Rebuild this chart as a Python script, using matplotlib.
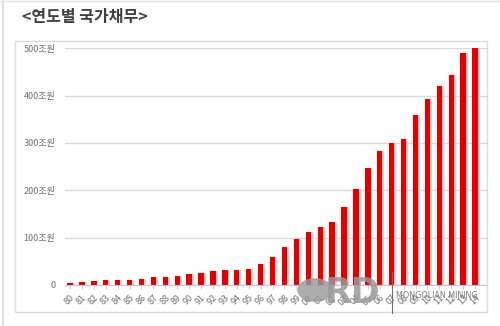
import matplotlib.pyplot as plt
from matplotlib.patches import Rectangle, Circle
from matplotlib.lines import Line2D
import numpy as np

plt.rcParams['font.family'] = ['Noto Sans CJK KR', 'DejaVu Sans']

# 연도별 국가채무 (조원)
years = ['80', '81', '82', '83', '84', '85', '86', '87', '88', '89',
         '90', '91', '92', '93', '94', '95', '96', '97', '98', '99',
         '00', '01', '02', '03', '04', '05', '06', '07', '08', '09',
         '10', '11', '12', '13', '14']
debt = [4, 5.5, 9, 11, 11, 11, 13, 16, 16, 20,
        23, 26, 30, 31, 32.5, 33, 45, 60, 80, 98,
        111, 122, 134, 165, 203, 248, 283, 299, 309, 360,
        392, 421, 443, 490, 500]
yticks = [0, 100, 200, 300, 400, 500]
ylabels = ['0', '100조원', '200조원', '300조원', '400조원', '500조원']

fig = plt.figure(figsize=(5, 3.26), dpi=100)
fig.patch.set_facecolor('white')

# 바깥 테두리 / 차트 박스
fig.add_artist(Line2D([0.005, 0.005], [0, 1], color='#d8d8d8', lw=1.2))
fig.add_artist(Line2D([0, 1], [0.997, 0.997], color='#e4e4e4', lw=1))
fig.add_artist(Rectangle((15 / 500, 1 - 312.3 / 326), (487.3 - 15) / 500,
                         (312.3 - 40.7) / 326, fill=False, ec='#dcdcdc', lw=1))

fig.text(22 / 500, 1 - 17 / 326, '<연도별 국가채무>', fontsize=11.5,
         fontweight='bold', color='#404040', va='center', ha='left')

ax = fig.add_axes([65 / 500, 41 / 326, 422 / 500, (285 - 48.3) / 326])
x = np.arange(len(years))
ax.bar(x + 0.16, debt, width=0.45, color='#f6c4c4', zorder=2)
ax.bar(x, debt, width=0.45, color='#e50000', zorder=3)

ax.set_xlim(-0.42, 35.0)
ax.set_ylim(0, 500)
ax.set_yticks(yticks)
ax.set_yticklabels(ylabels)
ax.set_xticks(x)
ax.set_xticklabels(years, rotation=45, ha='right', rotation_mode='anchor')
ax.tick_params(axis='y', length=0, pad=7, labelsize=6.5, labelcolor='#707070')
ax.tick_params(axis='x', length=3, color='#b8c8dc', width=0.6, pad=3,
               labelsize=6.5, labelcolor='#707070')
ax.grid(axis='y', color='#dadada', lw=1, zorder=0)
for s in ['top', 'right', 'left']:
    ax.spines[s].set_visible(False)
ax.spines['bottom'].set_color('#b8c8dc')
ax.spines['bottom'].set_linewidth(0.8)
ax.spines['bottom'].set_zorder(4)

# 워터마크
fig.add_artist(Circle((315 / 500, 1 - 290 / 326), 17 / 500, color='#9a9a9a',
                      alpha=0.8, transform=fig.transFigure, zorder=10))
fig.text(353 / 500, 1 - 293 / 326, 'RD', fontsize=25, fontweight='bold',
         color='#999999', alpha=0.85, ha='center', va='center', zorder=10,
         family='DejaVu Sans')
fig.add_artist(Line2D([392 / 500, 392 / 500], [1 - 313 / 326, 1 - 272 / 326],
                      color='#707070', lw=0.8, zorder=10))
fig.text(396 / 500, 1 - 296 / 326, 'MONGOLIAN MINING', fontsize=5.8,
         color='#7a7a7a', ha='left', va='center', zorder=10,
         family='DejaVu Sans')

fig.savefig('out.png', dpi=100)
